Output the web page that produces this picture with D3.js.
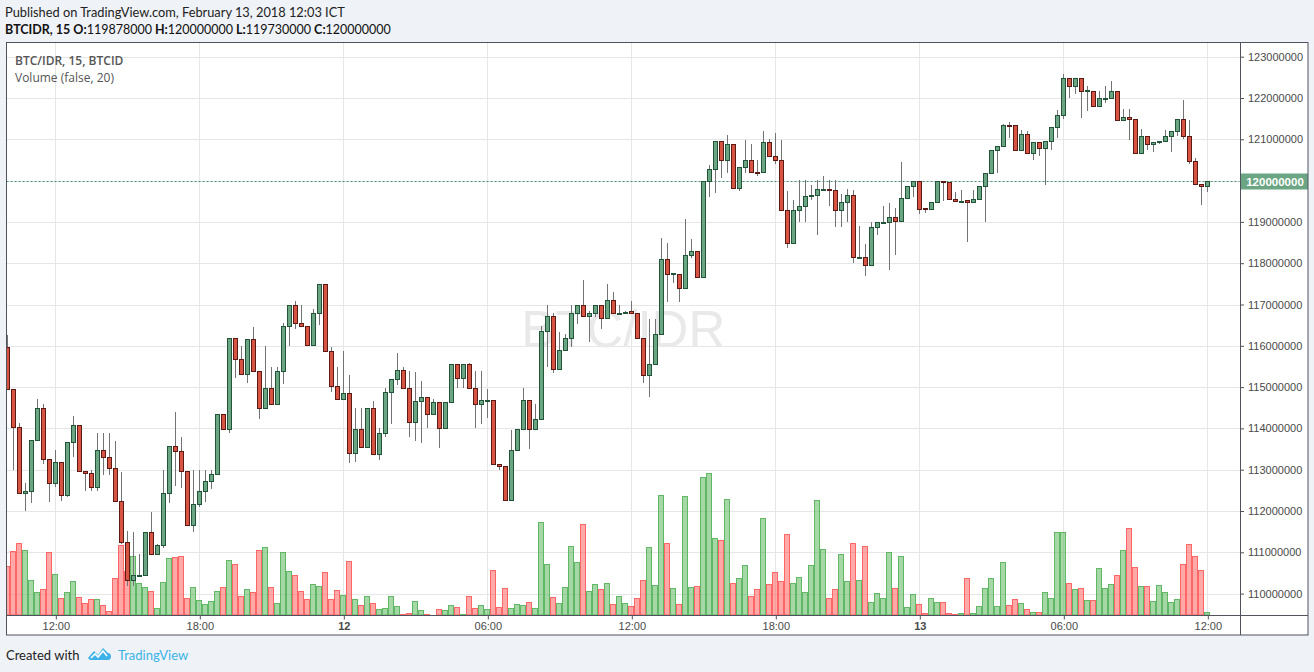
<!DOCTYPE html>
<html><head><meta charset="utf-8">
<script src="https://cdn.jsdelivr.net/npm/d3@7/dist/d3.min.js"></script>
<style>
html,body{margin:0;padding:0;background:#eff2f6;}
svg{display:block}
</style></head><body>
<svg id="c" width="1314" height="672"></svg>
<script>
// ---------------- data (prices in millions of IDR) ----------------
const startTime = "2018-02-11T10:00:00Z";
const intervalMinutes = 15;
const open = [115.96,114.95,114.03,112.43,112.48,113.73,114.49,113.27,112.69,113.18,112.39,113.68,114.08,112.98,112.91,112.57,113.48,113.3,113.03,112.24,
111.25,110.32,110.46,110.46,111.48,110.97,111.17,112.43,113.57,113.46,112.98,111.65,112.16,112.48,112.73,112.89,114.36,113.98,116.18,115.67,
115.31,116.16,115.39,114.49,114.97,114.58,115.39,116.48,116.99,116.54,116.48,116.01,116.79,117.5,115.87,115.03,114.7,114.85,113.4,113.98,
113.56,114.49,113.37,113.88,114.87,115.19,115.41,114.97,114.15,114.66,114.75,114.36,114.63,114.0,114.63,115.57,115.21,115.55,114.97,114.58,
114.68,114.68,113.13,113.1,112.27,113.48,113.98,114.69,113.98,114.22,116.37,116.72,115.43,115.9,116.18,116.79,116.99,116.73,116.79,116.99,
116.68,117.12,116.79,116.8,116.84,116.79,116.2,115.29,115.57,116.28,118.09,117.75,117.75,117.39,118.21,118.29,117.66,119.99,120.27,120.97,
120.49,120.88,119.81,120.32,120.49,120.2,120.2,120.94,120.59,120.49,119.28,118.5,119.28,119.38,119.62,119.66,119.79,119.8,119.77,119.28,
119.47,119.64,118.14,118.14,117.96,118.87,118.99,119.0,119.13,119.03,119.57,119.88,119.99,119.33,119.32,119.47,119.99,119.97,119.55,119.5,
119.52,119.47,119.55,119.88,120.18,120.73,120.83,121.35,121.34,120.73,121.12,120.68,120.93,120.8,120.95,121.29,121.58,122.48,122.28,122.48,
122.18,122.18,121.8,121.99,121.99,122.18,121.47,121.53,121.48,120.68,121.07,120.89,120.93,120.97,121.07,121.19,121.48,121.07,120.47,119.91,
119.878];
const high = [116.26,114.95,114.12,112.67,113.73,114.71,114.59,113.27,113.48,113.18,113.68,114.31,114.08,112.98,113.0,113.88,113.9,113.9,113.69,112.95,
111.51,111.49,110.97,111.48,111.97,111.2,112.99,113.57,114.4,113.78,112.98,112.99,112.99,112.99,112.99,114.36,114.36,116.18,116.18,115.99,
116.16,116.45,115.39,115.99,115.48,115.48,116.54,116.99,117.08,116.99,116.48,116.89,117.5,117.5,115.98,115.49,115.87,115.29,114.5,114.5,
114.49,114.66,114.0,114.99,115.19,115.83,115.48,115.39,115.37,115.15,114.75,114.71,114.63,114.63,115.57,115.57,115.55,115.59,115.39,115.39,
114.95,114.68,113.13,113.1,113.96,113.98,114.97,114.69,114.59,116.48,116.99,116.79,116.34,116.28,116.99,116.99,117.59,116.84,116.99,116.99,
117.5,117.31,116.99,116.85,117.08,116.79,116.2,116.65,116.65,118.62,118.49,117.77,117.75,119.07,118.58,118.29,119.99,120.38,120.97,120.97,
121.1,120.88,120.32,120.98,120.89,120.5,121.2,121.0,121.15,120.98,119.75,119.53,120.01,120.01,119.89,120.01,120.1,120.01,120.02,119.67,
119.8,119.77,118.9,118.46,118.99,118.99,119.38,119.46,119.34,120.46,119.88,119.99,119.99,119.33,119.47,119.99,119.99,119.97,119.72,119.77,
119.52,119.77,119.88,120.18,120.73,120.83,121.37,121.41,121.34,121.22,121.2,120.93,120.93,120.95,121.29,121.71,122.58,122.48,122.48,122.48,
122.28,122.18,122.18,122.28,122.41,122.18,121.73,121.73,121.48,121.25,121.07,120.93,120.97,121.22,121.19,121.48,121.95,121.46,120.54,119.91,
120.0];
const low = [114.95,112.99,112.43,112.0,112.2,113.73,113.15,112.21,112.59,112.25,112.33,113.3,112.98,112.49,112.49,112.49,112.87,112.87,112.24,111.21,
110.19,110.19,110.46,110.46,110.97,110.97,111.11,112.2,112.6,112.56,111.65,111.5,112.1,112.22,112.54,112.89,113.98,113.9,115.23,115.31,
115.11,115.39,114.22,114.49,114.58,114.58,115.07,115.99,116.4,116.48,116.01,116.01,116.5,115.87,114.89,114.7,114.7,113.17,113.19,113.56,
113.56,113.37,113.23,113.8,114.1,115.04,114.97,113.8,113.7,113.65,114.0,114.36,113.52,114.0,114.63,114.99,114.99,114.97,114.02,114.11,
114.24,113.13,113.0,112.27,112.27,113.48,113.98,113.49,113.98,114.22,115.49,115.35,115.43,115.9,115.98,116.52,116.73,116.1,116.7,116.4,
116.68,116.79,116.79,116.8,116.79,116.2,115.09,114.77,115.57,116.28,117.05,117.53,117.05,117.39,118.12,117.66,117.66,119.61,119.71,120.07,
120.19,119.81,119.76,120.19,120.2,120.1,120.2,120.59,120.39,119.28,118.36,118.5,119.0,119.0,119.53,118.68,119.79,119.39,118.88,118.88,
119.0,118.0,118.14,117.7,117.96,118.68,118.99,117.83,118.2,119.03,119.57,119.61,119.2,119.22,119.32,119.47,119.51,119.55,119.5,119.5,
118.52,119.47,119.55,119.0,120.18,120.19,120.83,121.04,120.73,120.73,120.68,120.5,120.59,119.89,120.74,121.04,121.5,122.0,122.1,121.51,
121.69,121.8,121.8,121.89,121.99,121.47,121.47,120.99,120.68,120.68,120.74,120.7,120.89,120.97,120.7,121.09,121.0,120.41,119.91,119.42,
119.73];
const close = [114.95,114.03,112.43,112.48,113.73,114.49,113.27,112.69,113.18,112.39,113.68,114.08,112.98,112.91,112.57,113.48,113.3,113.03,112.24,111.25,
110.32,110.46,110.46,111.48,110.97,111.17,112.43,113.57,113.46,112.98,111.65,112.16,112.48,112.73,112.89,114.36,113.98,116.18,115.67,115.31,
116.16,115.39,114.49,114.97,114.58,115.39,116.48,116.99,116.54,116.48,116.01,116.79,117.5,115.87,115.03,114.7,114.85,113.4,113.98,113.56,
114.49,113.37,113.88,114.87,115.19,115.41,114.97,114.15,114.66,114.75,114.36,114.63,114.0,114.63,115.57,115.21,115.55,114.97,114.58,114.68,
114.68,113.13,113.1,112.27,113.48,113.98,114.69,113.98,114.22,116.37,116.72,115.43,115.9,116.18,116.79,116.99,116.73,116.79,116.99,116.68,
117.12,116.79,116.8,116.83,116.79,116.2,115.29,115.57,116.28,118.09,117.75,117.76,117.39,118.21,118.29,117.66,119.99,120.27,120.97,120.49,
120.88,119.81,120.32,120.49,120.2,120.19,120.94,120.59,120.49,119.28,118.5,119.28,119.38,119.62,119.66,119.79,119.8,119.77,119.28,119.47,
119.64,118.14,118.15,117.96,118.87,118.99,119.0,119.13,119.03,119.57,119.88,119.99,119.32,119.31,119.47,119.99,119.97,119.55,119.5,119.51,
119.47,119.55,119.88,120.18,120.73,120.83,121.34,121.34,120.73,121.12,120.68,120.93,120.8,120.95,121.29,121.58,122.48,122.28,122.48,122.18,
122.19,121.8,121.99,122.0,122.18,121.47,121.53,121.48,120.68,121.07,120.89,120.93,120.97,121.07,121.19,121.48,121.07,120.47,119.91,119.86,
120.0];
const volume = [48.7,64,71.7,64.7,34.7,22.7,25.7,62.7,40.7,16.7,22.7,33.7,17.7,11.7,15.7,15.7,9.7,3.7,36.7,69.7,
43.7,58.7,31.7,27.7,23.7,6.7,32.7,56.7,57.7,58.7,16.7,27.7,14.7,10.7,13.7,23.7,27.7,54.7,50.7,18.7,
25.7,22.7,64.7,67.7,27.7,11.7,62.7,43.7,39.7,23.7,15.7,30.7,28.7,42.7,15.7,24.7,19.7,53.7,15.7,9.7,
18.7,11.7,5.7,6.7,18.7,8.7,0.7,1.7,13.7,4.7,0.7,0.3,5.7,4.7,9.7,7.7,0.7,18.7,6.7,9.7,
5.7,44.7,7.7,26.7,6.7,10.7,9.7,12.7,6.7,92.7,50.7,17.7,11.7,27.7,68.7,52.7,90.7,23.7,30.7,25.7,
31.7,10.7,18.7,11.7,8.7,16.7,34.7,67.7,29.7,119.7,71.7,26.7,10.7,118.7,27.7,28.7,137.7,141.7,76.7,74.7,
115.7,31.7,36.7,49.7,18.7,25.7,96.7,30.7,42.7,33.7,80.7,31.7,37.7,22.7,49.7,114.7,65.7,16.7,25.7,60.7,
33.7,71.7,34.7,68.7,12.7,21.7,16.7,62.7,26.7,58.7,7.7,20.7,10.7,1.7,16.7,12.7,12.7,1.7,0.7,1.7,
36.7,1.7,8.7,26.7,36.7,8.7,52.7,9.7,15.7,11.7,5.7,2.7,2.7,22.7,16.7,82.7,82.7,31.7,25.7,26.7,
14.7,14.7,46.7,26.7,30.7,39.7,64.7,86.7,47.7,28.7,28.7,13.7,29.7,22.7,12.7,15.7,50.7,70.7,58.7,44.7,
2.7];
const priceTicks = [110,111,112,113,114,115,116,117,118,119,120,121,122,123];
const timeTicks = ["2018-02-11T12:00:00Z","2018-02-11T18:00:00Z","2018-02-12T00:00:00Z","2018-02-12T06:00:00Z",
  "2018-02-12T12:00:00Z","2018-02-12T18:00:00Z","2018-02-13T00:00:00Z","2018-02-13T06:00:00Z","2018-02-13T12:00:00Z"];
const headerLine1 = "Published on TradingView.com, February 13, 2018 12:03 ICT";
const symbolLabel = "BTCIDR, 15";
const ohlcLabels = ["O:", "H:", "L:", "C:"];
const ohlcValues = ["119878000", "120000000", "119730000", "120000000"];
const legendLines = ["BTC/IDR, 15, BTCID", "Volume (false, 20)"];
const watermark = "BTC/IDR";
const lastPrice = 120;

// ---------------- layout ----------------
const svg = d3.select("#c");
const L = 6.5, T = 42.5, PR = 1240, AR = 1308, PB = 615.5, AB = 635;
const t0 = new Date(startTime);
const times = open.map((_, i) => new Date(t0.getTime() + i * intervalMinutes * 60000));
const x = d3.scaleUtc().domain([times[0], times[times.length - 1]]).range([7.3, 1207.3]);
const y = d3.scaleLinear().domain([110, 123]).range([593.6, 56.7]);
const vy = d3.scaleLinear().domain([0, d3.max(volume)]).range([615, 473.3]);
const fmtPrice = v => d3.format("d")(Math.round(v * 1e6));

const green = "#6ba583", greenBorder = "#225437", red = "#d75442", redBorder = "#5b1a13";

// frame
svg.append("rect").attr("x", L).attr("y", T).attr("width", AR - L).attr("height", AB - T)
  .attr("fill", "#fff");

const defs = svg.append("defs");
defs.append("clipPath").attr("id", "plotclip").append("rect")
  .attr("x", L + 0.5).attr("y", T + 0.5).attr("width", PR - L - 1).attr("height", PB - T - 1);

const plot = svg.append("g").attr("clip-path", "url(#plotclip)");

// grid
const tt = timeTicks.map(d => new Date(d));
plot.append("g").selectAll("line").data(tt).join("line")
  .attr("x1", d => Math.round(x(d)) + 0.5).attr("x2", d => Math.round(x(d)) + 0.5)
  .attr("y1", T).attr("y2", PB).attr("stroke", "#e6e6e6");
plot.append("g").selectAll("line").data(priceTicks).join("line")
  .attr("y1", d => Math.round(y(d)) + 0.5).attr("y2", d => Math.round(y(d)) + 0.5)
  .attr("x1", L).attr("x2", PR).attr("stroke", "#e6e6e6");

// watermark
plot.append("text").attr("x", (L + PR) / 2).attr("y", 347)
  .attr("text-anchor", "middle").attr("font-family", "Liberation Sans, Arial, sans-serif")
  .attr("font-size", 51).attr("fill", "#e9e9e9").text(watermark);

// volume
const P = i => Math.round(x(times[i]));
plot.append("g").selectAll("rect").data(volume).join("rect")
  .attr("x", (d, i) => P(i) - 2.5)
  .attr("width", 5)
  .attr("y", d => Math.round(vy(d)) + 0.5)
  .attr("height", d => Math.max(0, 615 - Math.round(vy(d)) - 0.5))
  .attr("fill", (d, i) => close[i] >= open[i] ? "rgba(76,175,80,0.5)" : "rgba(255,82,82,0.5)")
  .attr("stroke", (d, i) => close[i] >= open[i] ? "rgba(76,175,80,0.85)" : "rgba(255,82,82,0.85)")
  .attr("stroke-width", 1);

// last price line
plot.append("line").attr("x1", L).attr("x2", PR)
  .attr("y1", Math.round(y(lastPrice)) + 0.5).attr("y2", Math.round(y(lastPrice)) + 0.5)
  .attr("stroke", "#4a9470").attr("stroke-dasharray", "2,2");

// candles
const cg = plot.append("g");
const idx = d3.range(open.length);
cg.selectAll("line").data(idx).join("line")
  .attr("x1", i => P(i) + 0.5).attr("x2", i => P(i) + 0.5)
  .attr("y1", i => Math.round(y(high[i]))).attr("y2", i => Math.round(y(low[i])))
  .attr("stroke", "#737375").attr("stroke-width", 1);
cg.selectAll("rect").data(idx).join("rect")
  .attr("x", i => P(i) - 1.5).attr("width", 4)
  .attr("y", i => Math.round(y(Math.max(open[i], close[i]))) + 0.5)
  .attr("height", i => Math.max(1, Math.round(y(Math.min(open[i], close[i]))) - Math.round(y(Math.max(open[i], close[i])))))
  .attr("fill", i => close[i] >= open[i] ? green : red)
  .attr("stroke", i => close[i] >= open[i] ? greenBorder : redBorder)
  .attr("stroke-width", 1);

// legend
const lg = svg.append("g").attr("font-family", "Open Sans, sans-serif").attr("fill", "#555");
lg.append("text").attr("x", 15).attr("y", 65).attr("font-size", 12).attr("font-weight", 600).text(legendLines[0]);
lg.append("text").attr("x", 15).attr("y", 82).attr("font-size", 12).text(legendLines[1]);

// right price axis
const yAxis = d3.axisRight(y).tickValues(priceTicks).tickFormat(fmtPrice).tickSize(4).tickPadding(4);
const ya = svg.append("g").attr("transform", `translate(${PR},0)`).call(yAxis);
ya.select(".domain").remove();
ya.selectAll(".tick line").attr("stroke", "#555");
ya.selectAll("text").attr("font-family", "Liberation Sans, Arial, sans-serif").attr("font-size", 11).attr("fill", "#4a4a4a");

// bottom time axis
const xAxis = d3.axisBottom(x).tickValues(tt)
  .tickFormat(d => d.getUTCHours() === 0 ? d3.utcFormat("%-d")(d) : d3.utcFormat("%H:%M")(d))
  .tickSize(4).tickPadding(3);
const xa = svg.append("g").attr("transform", `translate(0.5,${PB})`).call(xAxis);
xa.select(".domain").remove();
xa.selectAll(".tick line").attr("stroke", "#555");
xa.selectAll("text").attr("font-family", "Liberation Sans, Arial, sans-serif").attr("font-size", 11).attr("fill", "#4a4a4a")
  .attr("font-weight", d => d.getUTCHours() === 0 ? "bold" : "normal");

// last price label
const ly = Math.round(y(lastPrice)) + 0.5;
svg.append("rect").attr("x", PR).attr("y", ly - 8).attr("width", AR - PR).attr("height", 16).attr("fill", green);
svg.append("text").attr("x", (PR + AR) / 2 + 1).attr("y", ly).attr("dy", "0.35em").attr("text-anchor", "middle")
  .attr("font-family", "Liberation Sans, Arial, sans-serif").attr("font-size", 11.5).attr("font-weight", "bold")
  .attr("fill", "#fff").text(fmtPrice(lastPrice));

// frame borders
const fb = svg.append("g").attr("stroke", "#50535e").attr("fill", "none");
fb.append("rect").attr("x", L).attr("y", T).attr("width", AR - L).attr("height", AB - T);
fb.append("line").attr("x1", PR + 0.5).attr("x2", PR + 0.5).attr("y1", T).attr("y2", AB);
fb.append("line").attr("x1", L).attr("x2", AR).attr("y1", PB).attr("y2", PB);

// header
const hf = "Lato, sans-serif";
svg.append("text").attr("x", 5).attr("y", 17).attr("font-family", hf).attr("font-size", 12.8).attr("fill", "#222").text(headerLine1);
const h2 = svg.append("text").attr("x", 5).attr("y", 34).attr("font-family", hf).attr("font-size", 12.5).attr("fill", "#111");
h2.append("tspan").attr("font-weight", "bold").text(symbolLabel + " ");
ohlcLabels.forEach((lab, i) => {
  h2.append("tspan").attr("font-weight", "bold").text((i ? " " : "") + lab);
  h2.append("tspan").text(ohlcValues[i]);
});

// footer
svg.append("text").attr("x", 6).attr("y", 660).attr("font-family", hf).attr("font-size", 13).attr("fill", "#222").text("Created with");
const logo = svg.append("g").attr("transform", "translate(88,646)");
logo.append("path").attr("d", "M0,12 L6,5 L10,9 L15,2 L20,7 C24,7 24,14 20,14 L2,14 Z").attr("fill", "#3cb2e8");
logo.append("path").attr("d", "M3,12 L7,8 L10,11 L15,5 L19,10").attr("fill", "none").attr("stroke", "#fff").attr("stroke-width", 1.6);
svg.append("text").attr("x", 118).attr("y", 660).attr("font-family", hf).attr("font-size", 13).attr("fill", "#3cb2e8").text("TradingView");
</script>
</body></html>
